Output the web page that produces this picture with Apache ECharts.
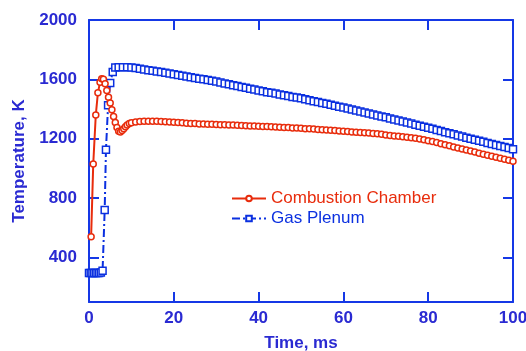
<!DOCTYPE html>
<html>
<head>
<meta charset="utf-8">
<script src="https://cdn.jsdelivr.net/npm/echarts@6/dist/echarts.min.js"></script>
<style>
  html, body { margin: 0; padding: 0; background: #fff; }
  #chart { width: 526px; height: 351px; }
</style>
</head>
<body>
<div id="chart"></div>
<script>
// time (ms) and temperature (K)
const chamberTime = [
  0.5, 1.0, 1.6, 2.1, 2.6, 3.0, 3.4, 3.8, 4.2, 4.6, 5.0, 5.4, 5.8, 6.2, 6.6, 7.0, 7.4, 7.8, 8.2, 8.6, 9.0, 9.5,
  10, 11, 12, 13, 14, 15, 16, 17, 18, 19, 20, 21, 22, 23, 24, 25, 26, 27, 28, 29,
  30, 31, 32, 33, 34, 35, 36, 37, 38, 39, 40, 41, 42, 43, 44, 45, 46, 47, 48, 49,
  50, 51, 52, 53, 54, 55, 56, 57, 58, 59, 60, 61, 62, 63, 64, 65, 66, 67, 68, 69,
  70, 71, 72, 73, 74, 75, 76, 77, 78, 79, 80, 81, 82, 83, 84, 85, 86, 87, 88, 89,
  90, 91, 92, 93, 94, 95, 96, 97, 98, 99, 100
]
const chamberTemp = [
  540, 1030, 1360, 1510, 1580, 1605, 1600, 1570, 1525, 1480, 1440, 1395, 1350, 1310, 1275, 1250, 1245, 1255, 1268, 1280, 1292, 1302,
  1308, 1313, 1316, 1318, 1318, 1318, 1317, 1316, 1314, 1313, 1311, 1309, 1307, 1305, 1303, 1302, 1300, 1299, 1298, 1297,
  1296, 1295, 1294, 1293, 1292, 1291, 1289, 1288, 1286, 1285, 1284, 1283, 1282, 1280, 1279, 1278, 1276, 1275, 1273, 1272,
  1270, 1268, 1267, 1265, 1263, 1261, 1259, 1257, 1255, 1252, 1250, 1248, 1246, 1244, 1242, 1240, 1238, 1235, 1233, 1230,
  1226, 1222, 1219, 1216, 1213, 1210, 1207, 1203, 1199, 1193, 1187, 1181, 1174, 1166, 1159, 1152, 1145, 1138, 1131, 1124,
  1117, 1110, 1102, 1095, 1088, 1082, 1075, 1068, 1061, 1055, 1048
]

const plenumTime = [
  0, 0.4, 0.8, 1.2, 1.6, 2.0, 2.4, 2.8, 3.2, 3.7, 4.0, 4.5, 5.0, 5.6, 6.2, 7, 8, 9,
  10, 11, 12, 13, 14, 15, 16, 17, 18, 19, 20, 21, 22, 23, 24, 25, 26, 27, 28, 29,
  30, 31, 32, 33, 34, 35, 36, 37, 38, 39, 40, 41, 42, 43, 44, 45, 46, 47, 48, 49,
  50, 51, 52, 53, 54, 55, 56, 57, 58, 59, 60, 61, 62, 63, 64, 65, 66, 67, 68, 69,
  70, 71, 72, 73, 74, 75, 76, 77, 78, 79, 80, 81, 82, 83, 84, 85, 86, 87, 88, 89,
  90, 91, 92, 93, 94, 95, 96, 97, 98, 99, 100
]
const plenumTemp = [
  295, 295, 295, 295, 295, 295, 296, 298, 310, 720, 1125, 1425, 1575, 1650, 1680, 1682, 1682, 1681,
  1680, 1676, 1671, 1667, 1662, 1658, 1653, 1649, 1644, 1640, 1635, 1630, 1625, 1620, 1615, 1610, 1605, 1600, 1595, 1590,
  1585, 1579, 1573, 1567, 1561, 1555, 1549, 1543, 1537, 1531, 1525, 1520, 1514, 1509, 1504, 1498, 1493, 1488, 1482, 1477,
  1472, 1466, 1460, 1453, 1447, 1441, 1435, 1429, 1422, 1416, 1410, 1403, 1397, 1390, 1383, 1377, 1370, 1364, 1357, 1350,
  1344, 1337, 1330, 1323, 1316, 1309, 1302, 1295, 1288, 1281, 1274, 1267, 1259, 1252, 1244, 1237, 1230, 1222, 1215, 1207,
  1200, 1193, 1186, 1179, 1172, 1165, 1158, 1151, 1144, 1137, 1130
]

const xTicks = [0, 20, 40, 60, 80, 100]
const yTicks = [400, 800, 1200, 1600, 2000]

const axisBlue = '#1538e6'
const labelBlue = '#2a2ad2'
const red = '#e82c0c'
const blue = '#0b30e0'

const chart = echarts.init(document.getElementById('chart'))

function pairs(xs, ys) {
  return xs.map((x, i) => [x, ys[i]])
}

const frameAxis = {
  type: 'value',
  axisLine: { show: true, onZero: false, lineStyle: { color: axisBlue, width: 2 } },
  axisTick: { show: true, inside: true, length: 10, lineStyle: { color: axisBlue, width: 2 } },
  splitLine: { show: false }
}
const tickFont = { color: labelBlue, fontFamily: 'Liberation Sans', fontWeight: 'bold', fontSize: 17 }
const nameFont = { color: labelBlue, fontFamily: 'Liberation Sans', fontWeight: 'bold', fontSize: 17 }

chart.setOption({
  animation: false,
  backgroundColor: '#fff',
  grid: { left: 89, right: 13, top: 20, bottom: 49, outerBoundsMode: 'none', containLabel: false },
  legend: {
    orient: 'vertical',
    left: 226,
    top: 185,
    itemWidth: 34,
    itemHeight: 7,
    itemGap: 3,
    data: [
      { name: 'Combustion Chamber', textStyle: { color: red } },
      { name: 'Gas Plenum', textStyle: { color: blue } }
    ],
    textStyle: { fontFamily: 'Liberation Sans', fontSize: 17 }
  },
  xAxis: [
    Object.assign({}, frameAxis, {
      min: 0, max: 100, interval: 20,
      position: 'bottom',
      name: 'Time, ms',
      nameLocation: 'middle',
      nameGap: 33,
      nameTextStyle: nameFont,
      axisLabel: Object.assign({ margin: 8, customValues: xTicks, formatter: v => String(v) }, tickFont)
    }),
    Object.assign({}, frameAxis, {
      min: 0, max: 100, interval: 20,
      position: 'top',
      axisLabel: { show: false }
    })
  ],
  yAxis: [
    Object.assign({}, frameAxis, {
      min: 100, max: 2000,
      position: 'left',
      name: 'Temperature, K',
      nameLocation: 'middle',
      nameGap: 54,
      nameTextStyle: nameFont,
      axisTick: { show: true, inside: true, length: 10, lineStyle: { color: axisBlue, width: 2 }, customValues: yTicks },
      axisLabel: Object.assign({ margin: 12, customValues: yTicks, formatter: v => String(v) }, tickFont)
    }),
    Object.assign({}, frameAxis, {
      min: 100, max: 2000,
      position: 'right',
      axisTick: { show: true, inside: true, length: 10, lineStyle: { color: axisBlue, width: 2 }, customValues: yTicks },
      axisLabel: { show: false }
    })
  ],
  series: [
    {
      name: 'Combustion Chamber',
      type: 'line',
      data: pairs(chamberTime, chamberTemp),
      symbol: 'circle',
      symbolSize: 6,
      showAllSymbol: true,
      lineStyle: { color: red, width: 2 },
      itemStyle: { color: '#fff', borderColor: red, borderWidth: 1.5 },
      z: 3
    },
    {
      name: 'Gas Plenum',
      type: 'line',
      data: pairs(plenumTime, plenumTemp),
      symbol: 'rect',
      symbolSize: 7,
      showAllSymbol: true,
      lineStyle: { color: blue, width: 2, type: [8, 3, 2, 3] },
      itemStyle: { color: '#fff', borderColor: blue, borderWidth: 1.5 },
      z: 2
    }
  ]
})
</script>
</body>
</html>
